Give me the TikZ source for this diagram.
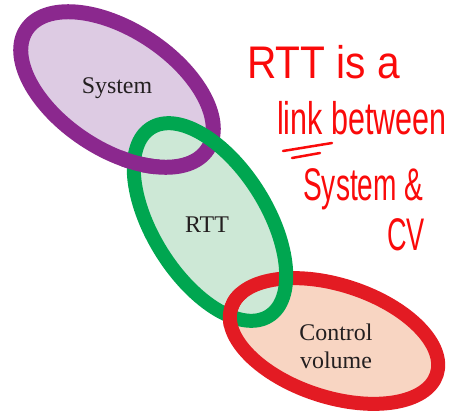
\documentclass[tikz,border=0pt]{standalone}
\usepackage{graphicx}
\usepackage{fontspec}
\setmainfont{Liberation Serif}
\newfontfamily\handfont{Liberation Sans}
\usepackage{tikz}

\definecolor{sysring}{RGB}{139,40,142}
\definecolor{sysfill}{RGB}{221,203,227}
\definecolor{rttring}{RGB}{0,166,80}
\definecolor{rttfill}{RGB}{205,232,214}
\definecolor{cvring}{RGB}{227,27,35}
\definecolor{cvfill}{RGB}{248,213,194}
\definecolor{ink}{RGB}{35,31,32}
\definecolor{pen}{RGB}{250,10,10}

\begin{document}
\begin{tikzpicture}[x=1bp, y=1bp,
    ring/.style={line width=14bp},
    tag/.style={text=ink, font=\fontsize{24}{28}\selectfont, align=center},
    note/.style={text=pen, font=\handfont\fontsize{34}{40}\selectfont, anchor=base west, inner sep=0pt}]
  \useasboundingbox (0,0) rectangle (461,418);
  \coordinate (sysc) at (117,328.5);
  \coordinate (rttc) at (210,196);
  \coordinate (cvc) at (334,77);
  % fills first, green one on top
  \fill[sysfill, rotate around={-33.5:(sysc)}] (sysc) ellipse (108.5 and 59.5);
  \fill[cvfill, rotate around={-18:(cvc)}] (cvc) ellipse (108 and 56);
  \fill[rttfill, rotate around={-57.9:(rttc)}] (rttc) ellipse (111 and 57);
  % the rings
  \draw[ring, sysring, line width=15bp, rotate around={-33.5:(sysc)}] (sysc) ellipse (108.5 and 59.5);
  \draw[ring, cvring, rotate around={-18:(cvc)}] (cvc) ellipse (108 and 56);
  \draw[ring, rttring, rotate around={-57.9:(rttc)}] (rttc) ellipse (111 and 57);
  % links: redraw where purple and red pass over green
  \begin{scope}
    \clip (140,258) circle (20);
    \draw[ring, sysring, line width=15bp, rotate around={-33.5:(sysc)}] (sysc) ellipse (108.5 and 59.5);
  \end{scope}
  \begin{scope}
    \clip (230,110) circle (20);
    \draw[ring, cvring, rotate around={-18:(cvc)}] (cvc) ellipse (108 and 56);
  \end{scope}
  \node[tag] (sys) at (117,330) {System};
  \node[tag] (rtt) at (207,193) {RTT};
  \node[tag] (cv) at (336,72) {Control\\volume};
  % handwritten note
  \node[note] (line1) at (247,340) {\scalebox{1.2}[1.35]{RTT is a}};
  \node[note] (line2) at (277,284) {\scalebox{0.9}[1.35]{link between}};
  \node[note] (line3) at (303,218) {\scalebox{0.83}[1.35]{System \&}};
  \node[note] (line4) at (387,168) {\scalebox{0.8}[1.35]{CV}};
  \draw[pen, line width=2.5bp, line cap=round] (283,267) -- (332,275);
  \draw[pen, line width=2.5bp, line cap=round] (292,260) -- (320,265);
\end{tikzpicture}
\end{document}
